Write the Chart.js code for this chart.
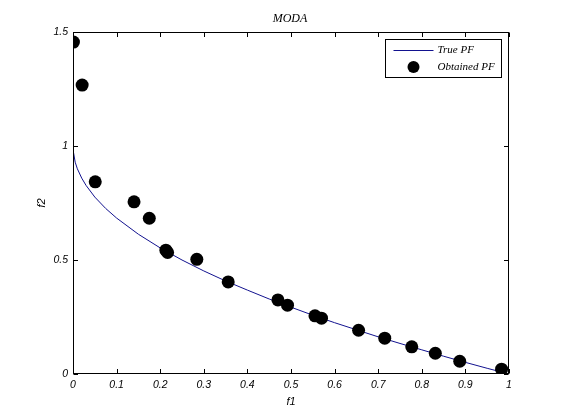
<!DOCTYPE html>
<html>
<head>
<meta charset="utf-8">
<script src="https://cdn.jsdelivr.net/npm/chart.js@4.4.0/dist/chart.umd.min.js"></script>
<style>
  html, body { margin: 0; padding: 0; background: #ffffff; }
  #wrap { width: 561px; height: 420px; position: relative; }
</style>
</head>
<body>
<div id="wrap"><canvas id="c" width="561" height="420"></canvas></div>
<script>
// ---- Data ----
const chartTitle = 'MODA';
const xTitle = 'f1';
const yTitle = 'f2';
const trueLabel = 'True PF';
const obtLabel = 'Obtained PF';

// True Pareto front (sampled curve)
const trueF1 = [0.0004, 0.005, 0.01, 0.02, 0.03, 0.05, 0.075, 0.1, 0.15, 0.2, 0.25, 0.3, 0.35, 0.4, 0.45, 0.5, 0.55, 0.6, 0.65, 0.7, 0.75, 0.8, 0.85, 0.9, 0.95, 1.0];
const trueF2 = [0.98, 0.929, 0.9, 0.859, 0.827, 0.776, 0.726, 0.684, 0.613, 0.553, 0.5, 0.452, 0.408, 0.368, 0.329, 0.293, 0.258, 0.225, 0.194, 0.163, 0.134, 0.106, 0.078, 0.051, 0.025, 0.0];

// Obtained Pareto front (markers)
const obtF1 = [0.001, 0.021, 0.051, 0.140, 0.175, 0.213, 0.217, 0.284, 0.356, 0.470, 0.492, 0.555, 0.570, 0.655, 0.715, 0.777, 0.831, 0.887, 0.983];
const obtF2 = [1.456, 1.267, 0.843, 0.755, 0.683, 0.543, 0.533, 0.503, 0.404, 0.325, 0.302, 0.255, 0.245, 0.192, 0.157, 0.119, 0.091, 0.056, 0.021];

// Axis settings
const xMin = 0, xMax = 1, xStep = 0.1;
const yMin = 0, yMax = 1.5, yStep = 0.5;

const curveColor = '#12128f';
const markerColor = '#000000';

const truePts = trueF1.map((v, i) => ({ x: v, y: trueF2[i] }));
const obtPts = obtF1.map((v, i) => ({ x: v, y: obtF2[i] }));

const tickFont = { family: '"Liberation Sans", Arial, sans-serif', size: 10.5, style: 'italic' };
const fmtTick = v => String(Number(Number(v).toFixed(2)));

const framePlugin = {
  id: 'frame',
  afterDraw(chart) {
    const { ctx, chartArea: a, scales } = chart;
    const xs = scales.x, ys = scales.y;
    ctx.save();
    ctx.strokeStyle = '#000';
    ctx.lineWidth = 1;
    const L = Math.round(a.left) + 0.5, R = Math.round(a.right) - 0.5;
    const T = Math.round(a.top) + 0.5, B = Math.round(a.bottom) - 0.5;
    ctx.strokeRect(L, T, R - L, B - T);
    const tl = 4.5;
    ctx.beginPath();
    xs.ticks.forEach(t => {
      const px = Math.round(xs.getPixelForValue(t.value)) + 0.5;
      ctx.moveTo(px, B); ctx.lineTo(px, B - tl);
      ctx.moveTo(px, T); ctx.lineTo(px, T + tl);
    });
    ys.ticks.forEach(t => {
      const py = Math.round(ys.getPixelForValue(t.value)) + 0.5;
      ctx.moveTo(L, py); ctx.lineTo(L + tl, py);
      ctx.moveTo(R, py); ctx.lineTo(R - tl, py);
    });
    ctx.stroke();

    // Title
    ctx.fillStyle = '#000';
    ctx.font = 'italic 12px "Liberation Serif", "Times New Roman", serif';
    ctx.textAlign = 'center';
    ctx.textBaseline = 'middle';
    ctx.fillText(chartTitle, (a.left + a.right) / 2 - 1, 19);

    // Legend box
    const bx = Math.round(a.right) - 123.5, by = Math.round(a.top) + 7.5;
    const bw = 116, bh = 38;
    ctx.fillStyle = '#fff';
    ctx.fillRect(bx, by, bw, bh);
    ctx.strokeStyle = '#000';
    ctx.strokeRect(bx, by, bw, bh);
    // line sample
    ctx.strokeStyle = curveColor;
    ctx.beginPath();
    ctx.moveTo(bx + 8, by + 11); ctx.lineTo(bx + 48, by + 11);
    ctx.stroke();
    // marker sample
    ctx.fillStyle = markerColor;
    ctx.beginPath();
    ctx.arc(bx + 28, by + 27.5, 6, 0, Math.PI * 2);
    ctx.fill();
    ctx.fillStyle = '#000';
    ctx.font = 'italic 11px "Liberation Serif", "Times New Roman", serif';
    ctx.textAlign = 'left';
    ctx.fillText(trueLabel, bx + 52, by + 11);
    ctx.fillText(obtLabel, bx + 52, by + 27.5);
    ctx.restore();
  }
};

new Chart(document.getElementById('c'), {
  type: 'scatter',
  data: {
    datasets: [
      {
        label: trueLabel,
        data: truePts,
        showLine: true,
        borderColor: curveColor,
        borderWidth: 1,
        pointRadius: 0,
        tension: 0,
        fill: false,
        order: 2
      },
      {
        label: obtLabel,
        data: obtPts,
        showLine: false,
        pointRadius: 6.5,
        pointBackgroundColor: markerColor,
        pointBorderColor: markerColor,
        pointBorderWidth: 0,
        order: 1
      }
    ]
  },
  options: {
    responsive: false,
    animation: false,
    devicePixelRatio: 1,
    layout: { padding: { top: 32, right: 52, left: 0, bottom: 0 } },
    plugins: {
      legend: { display: false },
      title: { display: false },
      tooltip: { enabled: false }
    },
    scales: {
      x: {
        type: 'linear',
        min: xMin, max: xMax,
        ticks: { stepSize: xStep, color: '#000', font: tickFont, padding: 5, maxRotation: 0, callback: fmtTick },
        grid: { display: false, drawTicks: false },
        border: { display: false },
        title: { display: true, text: xTitle, color: '#000', font: { family: '"Liberation Sans", Arial, sans-serif', size: 11, style: 'italic' }, padding: { top: 0, bottom: 11 } },
        afterFit(s) { s.height = 46; }
      },
      y: {
        type: 'linear',
        min: yMin, max: yMax,
        ticks: { stepSize: yStep, color: '#000', font: tickFont, padding: 5, callback: fmtTick },
        grid: { display: false, drawTicks: false },
        border: { display: false },
        title: { display: true, text: yTitle, color: '#000', font: { family: '"Liberation Sans", Arial, sans-serif', size: 11, style: 'italic' }, padding: { top: 35, bottom: 0 } },
        afterFit(s) { s.width = 73; }
      }
    }
  },
  plugins: [framePlugin]
});
</script>
</body>
</html>
